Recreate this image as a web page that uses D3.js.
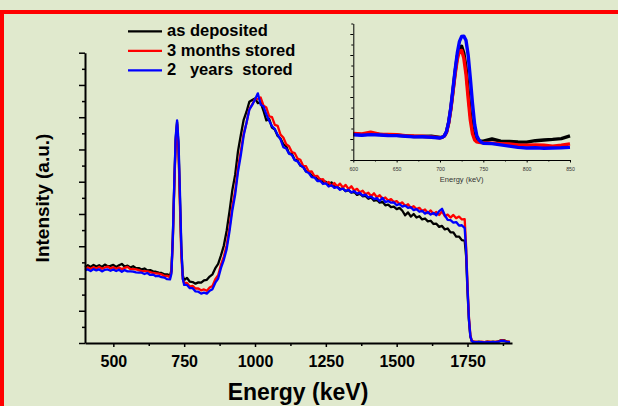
<!DOCTYPE html>
<html>
<head>
<meta charset="utf-8">
<script src="https://cdn.jsdelivr.net/npm/d3@7"></script>
<style>
  html, body { margin: 0; padding: 0; background: #e0e9cd; }
  svg { display: block; font-family: "Liberation Sans", Arial, sans-serif; }
</style>
</head>
<body>
<svg id="chart" width="618" height="406"></svg>
<script>
// ---------------- DATA ----------------
const seriesNames = ["as deposited", "3 months stored", "2   years  stored"];
const seriesColors = ["#000000", "#ff0000", "#0000ff"];

const energy = [
  400,410,420,430,440,450,460,470,480,490,500,510,520,530,540,550,560,570,580,590,600,610,620,630,640,650,660,670,680,690,700,
  705,710,715,720,725,730,735,740,745,750,
  760,770,780,790,800,810,820,830,840,850,
  860,870,880,890,900,910,920,930,940,950,
  960,970,980,990,1000,1010,1020,1030,1040,1050,
  1060,1070,1080,1090,1100,1110,1120,1130,1140,1150,
  1160,1170,1180,1190,1200,1210,1220,1230,1240,1250,
  1260,1270,1280,1290,1300,1310,1320,1330,1340,1350,
  1360,1370,1380,1390,1400,1410,1420,1430,1440,1450,
  1460,1470,1480,1490,1500,1510,1520,1530,1540,1550,
  1560,1570,1580,1590,1600,1610,1620,1630,1640,1650,
  1660,1670,1680,1690,1700,1710,1720,1730,1740,
  1745,1750,1755,1760,1765,
  1770,1780,1790,1800,1810,1820,1830,1840,1850,1860,1870,1880,1890,1900
];

const asDeposited = [
  2.36,2.41,2.36,2.42,2.37,2.41,2.36,2.43,2.38,2.39,2.42,2.36,2.41,2.45,2.37,2.40,2.34,2.38,2.32,2.32,2.28,2.31,2.25,2.26,2.22,2.21,2.18,2.17,2.13,2.13,2.09,
  2.25,3.30,4.90,6.30,6.85,6.10,4.50,2.90,2.10,1.95,
  2.02,1.90,1.89,1.84,1.88,1.87,1.94,1.96,2.06,2.13,
  2.32,2.45,2.72,3.02,3.48,4.08,4.74,5.22,5.95,6.45,
  6.92,7.17,7.48,7.53,7.58,7.44,7.46,7.20,6.90,6.95,
  6.68,6.62,6.42,6.34,6.16,6.10,5.88,5.87,5.68,5.66,
  5.50,5.47,5.32,5.30,5.19,5.17,5.07,5.08,4.99,5.00,
  4.90,4.98,4.83,4.85,4.77,4.79,4.71,4.74,4.66,4.69,
  4.59,4.63,4.55,4.56,4.47,4.51,4.41,4.44,4.35,4.38,
  4.27,4.29,4.21,4.23,4.15,4.19,4.10,3.96,4.05,3.92,
  4.00,3.89,3.93,3.83,3.86,3.77,3.79,3.69,3.70,3.60,
  3.63,3.52,3.55,3.43,3.43,3.30,3.30,3.19,3.17,
  2.70,1.60,0.70,0.20,0.06,
  0.04,0.03,0.04,0.03,0.03,0.04,0.03,0.04,0.03,0.05,0.09,0.08,0.04,0.03
];

const months3 = [
  2.30,2.34,2.30,2.35,2.31,2.36,2.30,2.34,2.37,2.31,2.35,2.30,2.34,2.29,2.33,2.36,2.29,2.29,2.28,2.26,2.23,2.23,2.22,2.20,2.17,2.16,2.15,2.13,2.08,2.08,2.04,
  2.20,3.20,4.80,6.20,6.78,6.00,4.30,2.70,1.98,1.86,
  1.86,1.75,1.77,1.69,1.69,1.63,1.66,1.62,1.72,1.77,
  1.98,2.10,2.43,2.68,3.03,3.58,4.24,4.71,5.44,5.95,
  6.49,6.82,7.26,7.39,7.56,7.57,7.61,7.36,7.30,7.03,
  7.00,6.76,6.73,6.46,6.37,6.16,6.10,5.92,5.89,5.72,
  5.68,5.49,5.48,5.31,5.32,5.17,5.18,5.06,5.08,4.95,
  4.99,4.87,4.96,4.85,4.94,4.82,4.90,4.77,4.86,4.73,
  4.78,4.67,4.72,4.61,4.66,4.55,4.64,4.52,4.58,4.47,
  4.51,4.42,4.46,4.37,4.40,4.31,4.36,4.25,4.30,4.19,
  4.24,4.15,4.19,4.09,4.14,4.03,4.11,4.00,4.06,3.97,
  4.08,3.93,3.98,3.89,3.97,3.87,3.92,3.83,3.84,
  3.00,1.80,0.80,0.25,0.07,
  0.04,0.04,0.03,0.04,0.03,0.04,0.04,0.03,0.04,0.05,0.08,0.07,0.04,0.04
];

const years2 = [
  2.25,2.28,2.23,2.29,2.25,2.28,2.22,2.27,2.28,2.24,2.28,2.23,2.27,2.21,2.26,2.22,2.22,2.21,2.19,2.18,2.18,2.14,2.17,2.11,2.12,2.07,2.08,2.04,2.03,1.98,1.97,
  2.15,3.25,4.95,6.40,6.90,6.25,4.70,3.00,2.00,1.80,
  1.80,1.70,1.70,1.60,1.59,1.53,1.56,1.53,1.62,1.67,
  1.87,2.00,2.33,2.58,2.91,3.46,4.11,4.60,5.31,5.83,
  6.43,6.83,7.23,7.38,7.55,7.74,7.39,7.33,7.09,6.89,
  6.72,6.63,6.45,6.31,6.07,6.03,5.87,5.83,5.67,5.63,
  5.51,5.45,5.31,5.27,5.14,5.13,5.02,5.03,4.93,4.95,
  4.85,4.89,4.81,4.83,4.75,4.79,4.71,4.75,4.67,4.71,
  4.63,4.66,4.57,4.60,4.51,4.54,4.46,4.49,4.40,4.50,
  4.37,4.40,4.35,4.36,4.27,4.31,4.23,4.26,4.19,4.21,
  4.12,4.15,4.07,4.10,4.01,4.06,3.98,4.03,3.96,4.09,
  4.16,3.96,3.82,3.81,3.73,3.75,3.64,3.65,3.56,
  2.90,1.70,0.75,0.22,0.06,
  0.03,0.03,0.03,0.03,0.02,0.03,0.03,0.03,0.03,0.04,0.07,0.06,0.03,0.03
];

const xTicks = [500, 750, 1000, 1250, 1500, 1750];
const xMinorTicks = [625, 875, 1125, 1375, 1625, 1875];
const yTicks = [0,1,2,3,4,5,6,7,8,9];
const yMinorTicks = [0.5,1.5,2.5,3.5,4.5,5.5,6.5,7.5,8.5];

// inset (zoom on the 600-850 keV region)
const insetEnergy = [
  600,610,620,630,640,650,660,670,680,690,700,
  702.5,705,707.5,710,712.5,715,717.5,720,722.5,725,727.5,730,732.5,735,737.5,740,742.5,745,747.5,750,
  760,770,780,790,800,810,820,830,840,850
];
const insetAsDeposited = [
  1.24,1.21,1.24,1.22,1.19,1.18,1.15,1.12,1.12,1.13,1.07,
  1.09,1.15,1.33,1.78,2.45,3.30,4.20,4.95,5.35,5.42,5.10,4.40,3.30,2.20,1.45,1.05,0.92,0.90,0.90,0.90,
  1.00,0.90,0.88,0.86,0.85,0.92,0.95,0.98,1.02,1.15
];
const insetMonths3 = [
  1.26,1.24,1.32,1.23,1.22,1.20,1.16,1.14,1.13,1.10,1.06,
  1.08,1.14,1.32,1.75,2.40,3.25,4.10,4.80,5.20,5.22,4.85,4.10,2.95,1.90,1.25,0.95,0.86,0.84,0.83,0.82,
  0.80,0.78,0.76,0.72,0.71,0.72,0.70,0.66,0.70,0.77
];
const insetYears2 = [
  1.20,1.18,1.21,1.19,1.17,1.16,1.13,1.10,1.11,1.08,1.05,
  1.08,1.15,1.35,1.80,2.50,3.40,4.30,5.10,5.65,5.88,5.90,5.70,5.00,3.90,2.70,1.70,1.15,0.95,0.85,0.80,
  0.78,0.72,0.66,0.60,0.57,0.58,0.56,0.57,0.58,0.60
];
const insetXTicks = [600, 650, 700, 750, 800, 850];
const insetXMinorTicks = [625, 675, 725, 775, 825];
const insetYTicks = [0,1,2,3,4,5,6];
const insetYMinorTicks = [0.5,1.5,2.5,3.5,4.5,5.5,6.5];

// ---------------- DRAW ----------------
const svg = d3.select("#chart");

// red frame
svg.append("rect")
  .attr("x", 2).attr("y", 12).attr("width", 720).attr("height", 500)
  .attr("fill", "none").attr("stroke", "#ff0000").attr("stroke-width", 4);

const x = d3.scaleLinear().domain([400, 1907]).range([85, 512]);
const y = d3.scaleLinear().domain([0, 9]).range([343, 52.7]);

const mainSeries = [asDeposited, months3, years2];

const line = d3.line()
  .x((d, i) => x(energy[i]))
  .y(d => y(d));

svg.append("g").selectAll("path")
  .data(mainSeries)
  .join("path")
  .attr("d", d => line(d))
  .attr("fill", "none")
  .attr("stroke", (d, i) => seriesColors[i])
  .attr("stroke-width", 2.3)
  .attr("stroke-linejoin", "round");

// main axes
const gx = svg.append("g").attr("transform", "translate(0,343)")
  .call(d3.axisBottom(x).tickValues(xTicks).tickSize(4).tickSizeOuter(0)
    .tickPadding(8.5).tickFormat(d3.format("d")));
gx.select(".domain").attr("stroke-width", 2);
gx.selectAll(".tick line").attr("stroke-width", 1.5);
gx.selectAll(".tick text")
  .attr("font-family", "Liberation Sans, Arial, sans-serif")
  .attr("font-size", 16).attr("font-weight", "bold").attr("fill", "#000");

const gxm = svg.append("g").attr("transform", "translate(0,343)")
  .call(d3.axisBottom(x).tickValues(xMinorTicks).tickSize(3).tickSizeOuter(0).tickFormat(""));
gxm.select(".domain").remove();
gxm.selectAll(".tick line").attr("stroke-width", 1.5);

const gy = svg.append("g").attr("transform", "translate(85,0)")
  .call(d3.axisLeft(y).tickValues(yTicks).tickSize(6).tickSizeOuter(0).tickFormat(""));
gy.select(".domain").attr("stroke-width", 2);
gy.selectAll(".tick line").attr("stroke-width", 1.5);

const gym = svg.append("g").attr("transform", "translate(85,0)")
  .call(d3.axisLeft(y).tickValues(yMinorTicks).tickSize(3).tickSizeOuter(0).tickFormat(""));
gym.select(".domain").remove();
gym.selectAll(".tick line").attr("stroke-width", 1.5);

// axis titles
svg.append("text")
  .attr("x", 298).attr("y", 400)
  .attr("text-anchor", "middle")
  .attr("font-size", 23).attr("font-weight", "bold")
  .text("Energy (keV)");

svg.append("text")
  .attr("transform", "translate(49,198) rotate(-90)")
  .attr("text-anchor", "middle")
  .attr("font-size", 19).attr("font-weight", "bold")
  .text("Intensity (a.u.)");

// legend
const legend = svg.append("g");
const legendRows = legend.selectAll("g")
  .data(seriesNames)
  .join("g")
  .attr("transform", (d, i) => `translate(0,${36 + i * 19.5})`);
legendRows.append("line")
  .attr("x1", 128).attr("x2", 162).attr("y1", -4.7).attr("y2", -4.7)
  .attr("stroke", (d, i) => seriesColors[i]).attr("stroke-width", 2.2);
legendRows.append("text")
  .attr("x", 167).attr("y", 0)
  .attr("font-size", 16.5).attr("font-weight", "bold")
  .style("white-space", "pre")
  .text(d => d);

// inset
const ix = d3.scaleLinear().domain([600, 850]).range([353.3, 570]);
const iy = d3.scaleLinear().domain([0, 6.5]).range([160, 23.5]);
const insetSeries = [insetAsDeposited, insetMonths3, insetYears2];
const insetLine = d3.line()
  .x((d, i) => ix(insetEnergy[i]))
  .y(d => iy(d));

svg.append("g").selectAll("path")
  .data(insetSeries)
  .join("path")
  .attr("d", d => insetLine(d))
  .attr("fill", "none")
  .attr("stroke", (d, i) => seriesColors[i])
  .attr("stroke-width", 3.4)
  .attr("stroke-linejoin", "round");

const igx = svg.append("g").attr("transform", "translate(0,160)")
  .call(d3.axisBottom(ix).tickValues(insetXTicks).tickSize(2.5).tickSizeOuter(0)
    .tickPadding(4.5).tickFormat(d3.format("d")));
igx.selectAll(".tick text").attr("font-size", 5.2).attr("fill", "#333")
  .attr("font-family", "Liberation Sans, Arial, sans-serif");
igx.select(".domain").attr("stroke-width", 1);
const igxm = svg.append("g").attr("transform", "translate(0,160)")
  .call(d3.axisBottom(ix).tickValues(insetXMinorTicks).tickSize(1.5).tickSizeOuter(0).tickFormat(""));
igxm.select(".domain").remove();

const igy = svg.append("g").attr("transform", "translate(353.3,0)")
  .call(d3.axisLeft(iy).tickValues(insetYTicks).tickSize(3).tickSizeOuter(0).tickFormat(""));
igy.select(".domain").attr("stroke-width", 1);
const igym = svg.append("g").attr("transform", "translate(353.3,0)")
  .call(d3.axisLeft(iy).tickValues(insetYMinorTicks).tickSize(2).tickSizeOuter(0).tickFormat(""));
igym.select(".domain").remove();

svg.append("text")
  .attr("x", 461.7).attr("y", 181.5)
  .attr("text-anchor", "middle")
  .attr("font-size", 7.5).attr("fill", "#333")
  .text("Energy (keV)");
</script>
</body>
</html>
